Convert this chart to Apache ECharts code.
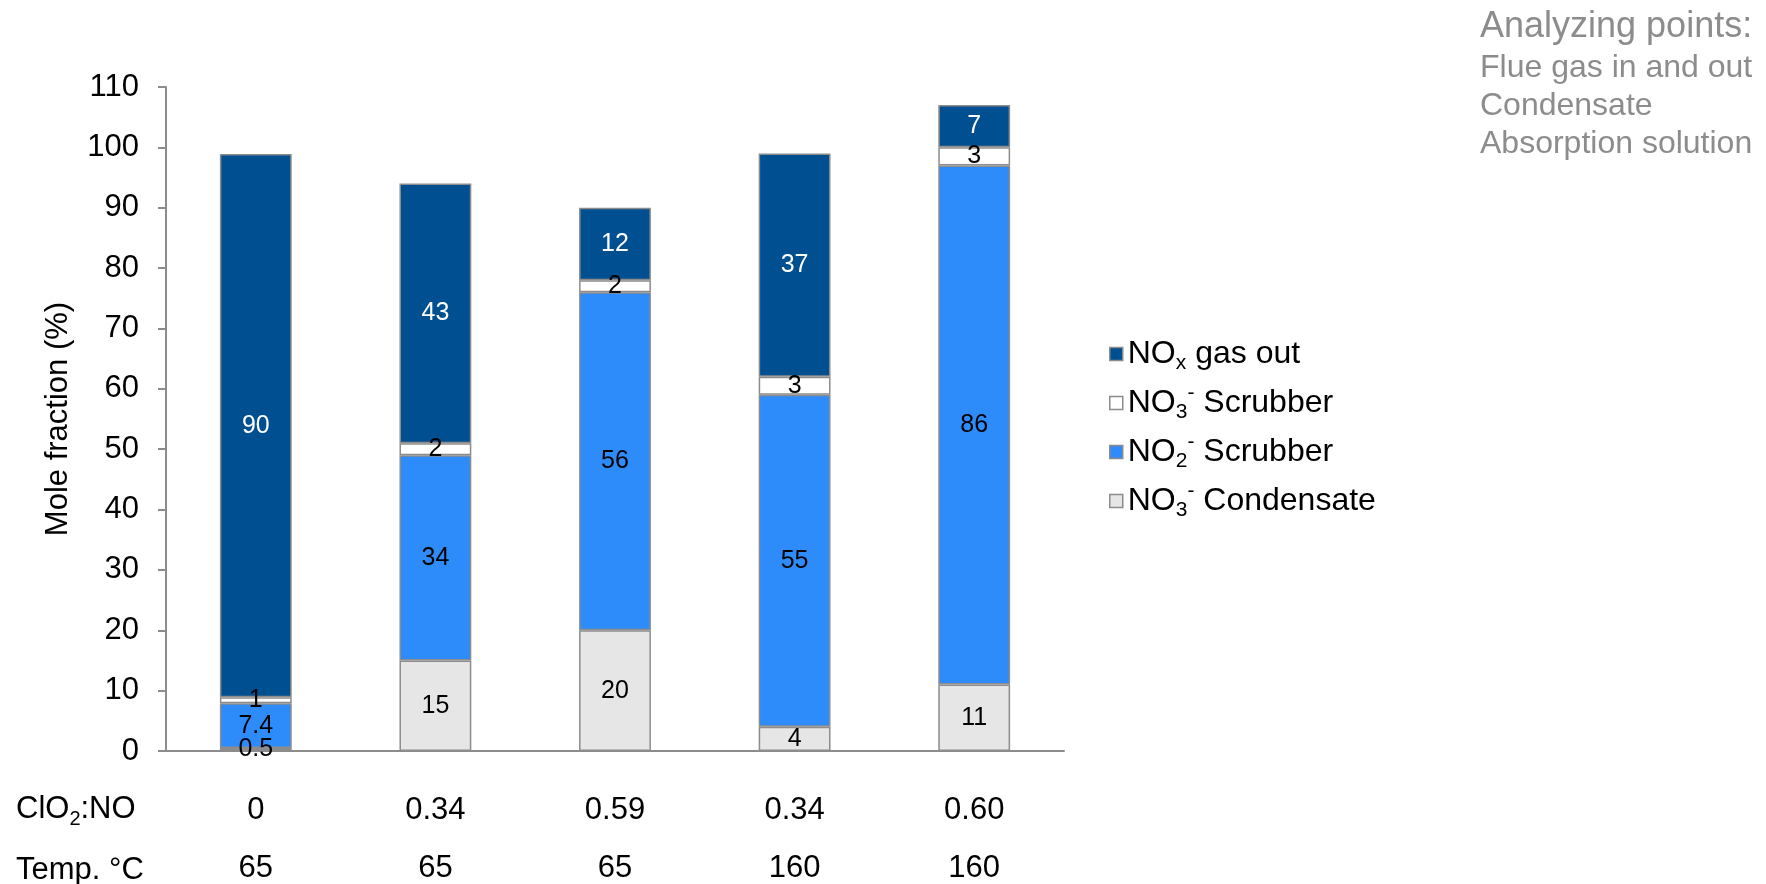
<!DOCTYPE html>
<html>
<head>
<meta charset="utf-8">
<script src="https://cdn.jsdelivr.net/npm/echarts@6/dist/echarts.min.js"></script>
<style>
  html, body { margin: 0; padding: 0; background: #ffffff; }
  #chart { width: 1766px; height: 884px; }
</style>
</head>
<body>
<div id="chart"></div>
<script>
// Operating conditions of each run
const clo2Ratio = ['0', '0.34', '0.59', '0.34', '0.60'];
const tempC = ['65', '65', '65', '160', '160'];

// Nitrogen balance, mole fraction (%) per fate, bottom to top of each stack
const no3Condensate = [0.5, 15, 20, 4, 11];
const no2Scrubber = [7.4, 34, 56, 55, 86];
const no3Scrubber = [1, 2, 2, 3, 3];
const noxGasOut = [90, 43, 12, 37, 7];

// Y axis ticks
const yMin = 0, yMax = 110, yStep = 10;

// Side note lines
const noteTitle = 'Analyzing points:';
const noteLines = ['Flue gas in and out', 'Condensate', 'Absorption solution'];

const FONT = '"Liberation Sans", Arial, sans-serif';
const BORDER = '#8c8c8c';

const categories = clo2Ratio.map((r, i) => r + '|' + tempC[i]);

// Legend names shown with sub/superscripts
const legendRichText = {
  'NOx gas out': '{t|NO}{sub|x}{t| gas out}',
  'NO3- Scrubber': '{t|NO}{sub|3}{sup|-}{t| Scrubber}',
  'NO2- Scrubber': '{t|NO}{sub|2}{sup|-}{t| Scrubber}',
  'NO3- Condensate': '{t|NO}{sub|3}{sup|-}{t| Condensate}'
};

function seg(name, values, color, labelColor) {
  return {
    name: name,
    type: 'bar',
    stack: 'total',
    barWidth: '40%',
    data: values,
    itemStyle: { color: color, borderColor: BORDER, borderWidth: 1.5 },
    label: {
      show: true,
      position: 'inside',
      color: labelColor,
      fontFamily: FONT,
      fontSize: 25
    },
    emphasis: { disabled: true }
  };
}

const richSub = {
  t: { fontFamily: FONT, fontSize: 32, color: '#000', lineHeight: 40 },
  sub: { fontFamily: FONT, fontSize: 21, color: '#000', lineHeight: 22, verticalAlign: 'bottom' },
  sup: { fontFamily: FONT, fontSize: 21, color: '#000', lineHeight: 22, verticalAlign: 'top' }
};

const chart = echarts.init(document.getElementById('chart'), null, { renderer: 'canvas' });

chart.setOption({
  animation: false,
  backgroundColor: '#ffffff',
  grid: { left: 166, right: 702, top: 87, bottom: 133, containLabel: false },
  legend: {
    orient: 'vertical',
    left: 1104,
    top: 333,
    itemWidth: 13,
    itemHeight: 13,
    itemGap: 9,
    icon: 'rect',
    data: ['NOx gas out', 'NO3- Scrubber', 'NO2- Scrubber', 'NO3- Condensate'],
    itemStyle: { borderColor: BORDER, borderWidth: 1.5 },
    formatter: name => legendRichText[name],
    textStyle: { rich: richSub }
  },
  xAxis: {
    type: 'category',
    data: categories,
    axisLine: { show: true, lineStyle: { color: BORDER, width: 2 } },
    axisTick: { show: false },
    axisLabel: {
      margin: 30,
      interval: 0,
      formatter: v => {
        const p = v.split('|');
        return '{a|' + p[0] + '}\n{a|' + p[1] + '}';
      },
      rich: {
        a: { fontFamily: FONT, fontSize: 31, color: '#000', lineHeight: 58 }
      }
    }
  },
  yAxis: {
    type: 'value',
    min: yMin,
    max: yMax,
    interval: yStep,
    name: 'Mole fraction (%)',
    nameLocation: 'middle',
    nameGap: 92,
    nameTextStyle: { fontFamily: FONT, fontSize: 31, color: '#000' },
    axisLine: { show: true, lineStyle: { color: BORDER, width: 2 } },
    axisTick: { show: true, length: 8, lineStyle: { color: BORDER, width: 2 } },
    splitLine: { show: false },
    axisLabel: { margin: 27, fontFamily: FONT, fontSize: 31, color: '#000' }
  },
  series: [
    seg('NO3- Condensate', no3Condensate, '#e6e6e6', '#000'),
    seg('NO2- Scrubber', no2Scrubber, '#2e8bfa', '#000'),
    seg('NO3- Scrubber', no3Scrubber, '#ffffff', '#000'),
    seg('NOx gas out', noxGasOut, '#004f91', '#ffffff')
  ],
  graphic: [
    {
      type: 'text', left: 16, top: 794,
      style: {
        text: '{t|ClO}{sub|2}{t|:NO}',
        rich: {
          t: { fontFamily: FONT, fontSize: 31, fill: '#000', lineHeight: 40 },
          sub: { fontFamily: FONT, fontSize: 20, fill: '#000', lineHeight: 20, verticalAlign: 'bottom' }
        }
      }
    },
    {
      type: 'text', left: 16, top: 855,
      style: { text: 'Temp. °C', font: '31px ' + FONT, fill: '#000' }
    },
    {
      type: 'text', left: 1480, top: 9,
      style: { text: noteTitle, font: '36px ' + FONT, fill: '#8c8c8c' }
    }
  ].concat(noteLines.map((line, i) => ({
    type: 'text', left: 1480, top: 52 + i * 38,
    style: { text: line, font: '32px ' + FONT, fill: '#8c8c8c' }
  })))
});
</script>
</body>
</html>
